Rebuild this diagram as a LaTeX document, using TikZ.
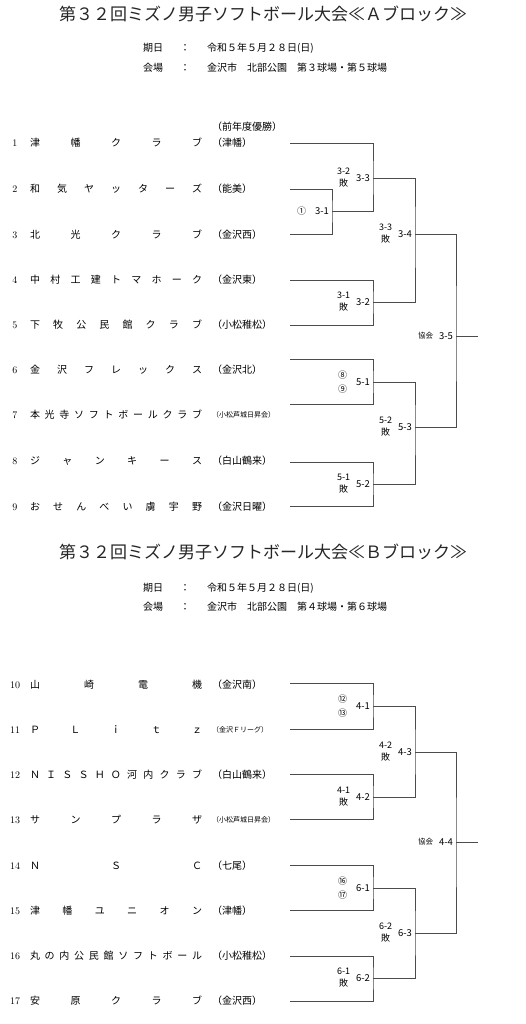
\documentclass[tikz,border=0pt]{standalone}
\usepackage{fontspec}
\newfontfamily\jp{Noto Sans CJK JP}
\usetikzlibrary{positioning}
\newcommand{\spread}[1]{\makebox[172pt][s]{#1}}

\begin{document}
\begin{tikzpicture}[
    x=1pt, y=-1pt,
    inner sep=0pt, outer sep=0pt,
    title/.style={font=\jp\fontsize{17}{20}\selectfont, text=black!85},
    info/.style={font=\jp\fontsize{10}{12}\selectfont, anchor=west},
    num/.style={font=\fontsize{10}{12}\selectfont},
    team/.style={font=\jp\fontsize{10}{12}\selectfont, anchor=west},
    area/.style={font=\jp\fontsize{10}{12}\selectfont, anchor=west},
    smallarea/.style={font=\jp\fontsize{7}{8}\selectfont, anchor=west},
    game/.style={font=\jp\fontsize{9.5}{10}\selectfont},
    lose/.style={font=\jp\fontsize{9}{12}\selectfont, align=center},
    circ/.style={font=\jp\fontsize{9}{14}\selectfont, align=center},
    kyokai/.style={font=\jp\fontsize{7.5}{8}\selectfont},
    bracket/.style={draw=black!70, line width=0.9pt},
]
    \useasboundingbox[fill=white] (0,0) rectangle (526,1024);

    % A block heading
    \node[title] (titleA) at (263,14) {第３２回ミズノ男子ソフトボール大会≪Ａブロック≫};
    \node[info] (dayA) at (143,48) {期日};
    \node[info] at (180,48) {：};
    \node[info] at (207,48) {令和５年５月２８日(日)};
    \node[info] (placeA) at (143,68) {会場};
    \node[info] at (180,68) {：};
    \node[info] at (207,68) {金沢市　北部公園　第３球場・第５球場};
    \node[area] (prev) at (212,127) {（前年度優勝）};

    % B block heading
    \node[title] (titleB) at (263,552) {第３２回ミズノ男子ソフトボール大会≪Ｂブロック≫};
    \node[info] (dayB) at (143,588) {期日};
    \node[info] at (180,588) {：};
    \node[info] at (207,588) {令和５年５月２８日(日)};
    \node[info] (placeB) at (143,607) {会場};
    \node[info] at (180,607) {：};
    \node[info] at (207,607) {金沢市　北部公園　第４球場・第６球場};

    % Teams
    \foreach \n/\ty/\ly/\name/\reg/\st in {
        1/143/143/津 幡 ク ラ ブ/（津幡）/area,
        2/189/189/和 気 ヤ ッ タ ー ズ/（能美）/area,
        3/235/234/北 光 ク ラ ブ/（金沢西）/area,
        4/280/280/中 村 工 建 ト マ ホ ー ク/（金沢東）/area,
        5/325/325/下 牧 公 民 館 ク ラ ブ/（小松稚松）/area,
        6/370/359/金 沢 フ レ ッ ク ス/（金沢北）/area,
        7/415/404/本 光 寺 ソ フ ト ボ ー ル ク ラ ブ/（小松芦城日昇会）/smallarea,
        8/461/462/ジ ャ ン キ ー ス/（白山鶴来）/area,
        9/507/506/お せ ん べ い 虜 宇 野/（金沢日曜）/area,
        10/685/683/山 崎 電 機/（金沢南）/area,
        11/730/729/Ｐ Ｌ ｉ ｔ ｚ/（金沢Ｆリーグ）/smallarea,
        12/775/774/Ｎ Ｉ Ｓ Ｓ Ｈ Ｏ 河 内 ク ラ ブ/（白山鶴来）/area,
        13/820/819/サ ン プ ラ ザ/（小松芦城日昇会）/smallarea,
        14/866/865/Ｎ Ｓ Ｃ/（七尾）/area,
        15/911/910/津 幡 ユ ニ オ ン/（津幡）/area,
        16/956/956/丸 の 内 公 民 館 ソ フ ト ボ ー ル/（小松稚松）/area,
        17/1001/1001/安 原 ク ラ ブ/（金沢西）/area}
    {
        \node[num] (n\n) at (15,\ty) {\n};
        \node[team] (name\n) at (30,\ty) {\spread{\name}};
        \node[style=\st] (reg\n) at (212,\ty) {\reg};
        \coordinate (t\n) at (290,\ly);
    }

    % A block games
    \coordinate (g31) at (332,211);
    \coordinate (g33) at (373,178);
    \coordinate (g32) at (373,302);
    \coordinate (g34) at (415,234);
    \coordinate (g51) at (373,382);
    \coordinate (g52) at (373,484);
    \coordinate (g53) at (415,427);
    \coordinate (g35) at (456,336);
    \coordinate (e35) at (478,336);

    \draw[bracket] (t2) -| (g31) |- (t3);
    \draw[bracket] (t1) -| (g33) |- (g31);
    \draw[bracket] (t4) -| (g32) |- (t5);
    \draw[bracket] (g33) -| (g34) |- (g32);
    \draw[bracket] (t6) -| (g51) |- (t7);
    \draw[bracket] (t8) -| (g52) |- (t9);
    \draw[bracket] (g51) -| (g53) |- (g52);
    \draw[bracket] (g34) -| (g35) |- (g53);
    \draw[bracket] (g35) -- (e35);

    \node[game, left=3pt of g31] (l31) {3-1};
    \node[circ, left=9pt of l31] {①};
    \node[game, left=3pt of g33] (l33) {3-3};
    \node[lose, left=6pt of l33] {3-2\\敗};
    \node[game, left=3pt of g34] (l34) {3-4};
    \node[lose, left=6pt of l34] {3-3\\敗};
    \node[game, left=3pt of g32] (l32) {3-2};
    \node[lose, left=6pt of l32] {3-1\\敗};
    \node[game, left=3pt of g35] (l35) {3-5};
    \node[kyokai, left=6pt of l35] {協会};
    \node[game, left=3pt of g51] (l51) {5-1};
    \node[circ, left=9pt of l51] {⑧\\⑨};
    \node[game, left=3pt of g53] (l53) {5-3};
    \node[lose, left=6pt of l53] {5-2\\敗};
    \node[game, left=3pt of g52] (l52) {5-2};
    \node[lose, left=6pt of l52] {5-1\\敗};

    % B block games
    \coordinate (g41) at (373,706);
    \coordinate (g42) at (373,797);
    \coordinate (g43) at (415,752);
    \coordinate (g61) at (373,888);
    \coordinate (g62) at (373,978);
    \coordinate (g63) at (415,933);
    \coordinate (g44) at (456,842);
    \coordinate (e44) at (478,842);

    \draw[bracket] (t10) -| (g41) |- (t11);
    \draw[bracket] (t12) -| (g42) |- (t13);
    \draw[bracket] (g41) -| (g43) |- (g42);
    \draw[bracket] (t14) -| (g61) |- (t15);
    \draw[bracket] (t16) -| (g62) |- (t17);
    \draw[bracket] (g61) -| (g63) |- (g62);
    \draw[bracket] (g43) -| (g44) |- (g63);
    \draw[bracket] (g44) -- (e44);

    \node[game, left=3pt of g41] (l41) {4-1};
    \node[circ, left=9pt of l41] {⑫\\⑬};
    \node[game, left=3pt of g43] (l43) {4-3};
    \node[lose, left=6pt of l43] {4-2\\敗};
    \node[game, left=3pt of g42] (l42) {4-2};
    \node[lose, left=6pt of l42] {4-1\\敗};
    \node[game, left=3pt of g44] (l44) {4-4};
    \node[kyokai, left=6pt of l44] {協会};
    \node[game, left=3pt of g61] (l61) {6-1};
    \node[circ, left=9pt of l61] {⑯\\⑰};
    \node[game, left=3pt of g63] (l63) {6-3};
    \node[lose, left=6pt of l63] {6-2\\敗};
    \node[game, left=3pt of g62] (l62) {6-2};
    \node[lose, left=6pt of l62] {6-1\\敗};
\end{tikzpicture}
\end{document}
